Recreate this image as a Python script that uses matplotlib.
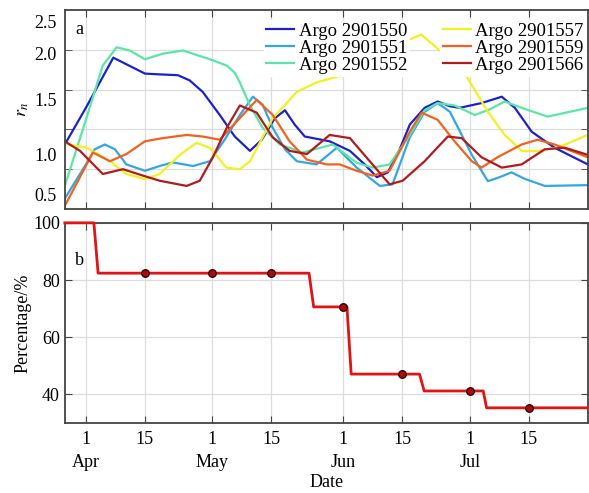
"""Argo float r_n time series (a) and surviving-float percentage (b)."""
import matplotlib
matplotlib.use("Agg")
import matplotlib.pyplot as plt

plt.rcParams["font.family"] = ["Liberation Serif", "DejaVu Serif"]
plt.rcParams["mathtext.fontset"] = "stix"
plt.rcParams["font.size"] = 13

# days counted from 1 April
names = ["Argo 2901550", "Argo 2901551", "Argo 2901552",
         "Argo 2901557", "Argo 2901559", "Argo 2901566"]
colors = ["#1c22c8", "#34a6e4", "#5ae6a6", "#f4f020", "#f2621e", "#b01c1c"]

d_1550 = [-5, 0, 6.5, 14, 17.5, 21.8, 24.6, 27.7, 31.75, 35.3, 38.9, 41.7, 44.8, 47.2, 49.5, 51.9,
          57.8, 62.6, 66.1, 69, 71.6, 74.4, 76.8, 80.3, 83.4, 86.3, 88.6, 93.8, 98.6, 101.7,
          105.7, 111.1, 119]
r_1550 = [0.81, 1.27, 1.90, 1.70, 1.69, 1.68, 1.615, 1.47, 1.18, 0.91, 0.73, 0.87, 1.14, 1.24, 1.06, 0.91,
          0.85, 0.73, 0.56, 0.40, 0.46, 0.75, 1.06, 1.27, 1.35, 1.29, 1.27, 1.33, 1.41, 1.27,
          0.97, 0.77, 0.56]

d_1551 = [-5, 0, 2.1, 4.5, 6.9, 9.6, 14, 17.5, 20.6, 25.4, 29.4, 32.9, 36.5, 39.6, 41.9, 44.3,
          47.2, 50, 54.7, 59.5, 64.2, 69.7, 72.7, 76.8, 80.3, 83.4, 86.3, 89.1, 91.5, 95.3,
          98.1, 100.9, 104, 108.8, 119]
r_1551 = [0.13, 0.56, 0.75, 0.81, 0.75, 0.56, 0.48, 0.54, 0.585, 0.54, 0.60, 0.87, 1.18, 1.41, 1.31, 1.02,
          0.75, 0.60, 0.56, 0.77, 0.52, 0.29, 0.31, 0.90, 1.22, 1.33, 1.22, 0.93, 0.68, 0.35,
          0.40, 0.46, 0.38, 0.29, 0.30]

d_1552 = [-5, 0, 4, 7.3, 10.4, 14, 18.2, 23, 29.4, 33.4, 35.3, 36.5, 38.9, 41.9, 46, 51.4,
          58.5, 64.2, 68, 72, 76.8, 80.3, 83.4, 87.4, 92.2, 95.7, 99.3, 103.3, 109.5, 119]
r_1552 = [0.29, 1.12, 1.80, 2.03, 1.99, 1.88, 1.95, 1.99, 1.88, 1.80, 1.71, 1.59, 1.30, 1.02, 0.81, 0.71,
          0.81, 0.58, 0.52, 0.56, 0.93, 1.24, 1.33, 1.30, 1.18, 1.25, 1.35, 1.27, 1.16, 1.27]

d_1557 = [-5, 0.2, 5.7, 9.6, 14, 17.5, 22.3, 26.2, 29.4, 33.3, 36.5, 38.9, 44.3, 50, 54.7, 59.5,
          67.3, 73.2, 79.5, 83.9, 87.4, 90.3, 95.3, 99.3, 103.3, 107.1, 111.8, 119]
r_1557 = [0.82, 0.77, 0.60, 0.44, 0.376, 0.44, 0.68, 0.83, 0.77, 0.52, 0.50, 0.60, 1.14, 1.47, 1.59, 1.66,
          1.74, 2.05, 2.19, 1.99, 1.84, 1.66, 1.22, 0.93, 0.73, 0.73, 0.77, 0.93]

d_1559 = [-5, -1.4, 1.66, 5.7, 9.6, 14, 18.2, 23.9, 27.7, 31.75, 36.5, 40.5, 44.3, 48.3, 52.4, 57.1,
          60.2, 64.2, 68, 72, 76.8, 79.6, 83.4, 87.4, 91.5, 93.8, 97.6, 103.3, 107.1, 111.1, 119]
r_1559 = [0.04, 0.40, 0.71, 0.60, 0.69, 0.85, 0.89, 0.93, 0.91, 0.87, 1.14, 1.37, 1.18, 0.85, 0.62, 0.56,
          0.56, 0.48, 0.42, 0.48, 0.97, 1.21, 1.12, 0.85, 0.60, 0.52, 0.65, 0.81, 0.87, 0.81, 0.65]

d_1566 = [-5, -1.4, 4, 8.8, 13.5, 17.5, 23.9, 27, 30.1, 33.4, 36.5, 40.5, 44.3, 48.3, 52.4, 57.8,
          62.6, 67.3, 72, 75.1, 80.3, 85.8, 89.1, 93.8, 98.6, 103.3, 108.8, 113.5, 119]
r_1566 = [0.85, 0.73, 0.44, 0.50, 0.42, 0.355, 0.29, 0.355, 0.65, 1.02, 1.30, 1.21, 0.90, 0.73, 0.69, 0.93,
          0.89, 0.60, 0.31, 0.355, 0.60, 0.91, 0.89, 0.65, 0.52, 0.56, 0.75, 0.77, 0.68]

days_all = [d_1550, d_1551, d_1552, d_1557, d_1559, d_1566]
rn_all = [r_1550, r_1551, r_1552, r_1557, r_1559, r_1566]

# percentage of floats still reporting
step_days = [-5, 1.9, 2.9, 52.9, 54, 61.9, 62.9, 79.1, 80.2, 94.2, 95, 119]
step_pct = [100, 100, 82.4, 82.4, 70.6, 70.6, 47.1, 47.1, 41.2, 41.2, 35.3, 35.3]
mark_days = [14, 30, 44, 61, 75, 91, 105]
mark_pct = [82.4, 82.4, 82.4, 70.6, 47.1, 41.2, 35.3]

xtick_days = [0, 14, 30, 44, 61, 75, 91, 105]
xtick_labels = ["1\nApr", "15", "1\nMay", "15", "1\nJun", "15", "1\nJul", "15"]
rn_grid = [0.5, 1.0, 1.5, 2.0]
rn_label_pos = [0.18, 0.69, 1.37, 1.95, 2.36]
rn_labels = ["0.5", "1.0", "1.5", "2.0", "2.5"]
pct_ticks = [40, 60, 80, 100]

fig = plt.figure(figsize=(5.89, 4.93), dpi=100)
ax1 = fig.add_axes([0.110, 0.576, 0.888, 0.404])
ax2 = fig.add_axes([0.110, 0.142, 0.888, 0.406])

handles = []
for d, r, c, n in zip(days_all, rn_all, colors, names):
    h, = ax1.plot(d, r, color=c, lw=1.6, label=n)
    handles.append(h)

ax1.set_xlim(-5, 119)
ax1.set_ylim(0, 2.5)
ax1.set_xticks(xtick_days)
ax1.set_xticklabels([])
ax1.set_yticks(rn_grid, minor=True)
ax1.set_yticks(rn_label_pos)
ax1.set_yticklabels(rn_labels)
ax1.tick_params(axis="y", which="major", length=0, pad=6)
ax1.tick_params(axis="y", which="minor", direction="in", length=5, left=True, right=True, color="#444444")
ax1.tick_params(axis="x", direction="in", length=5, top=True, bottom=True, color="#444444")
ax1.grid(True, axis="x", color="#dddddd", lw=0.9)
ax1.grid(True, axis="y", which="minor", color="#dddddd", lw=0.9)
ax1.set_ylabel("$r_n$", labelpad=2)
ax1.text(0.02, 0.90, "a", transform=ax1.transAxes, fontsize=13, va="center")

leg_kw = dict(frameon=True, framealpha=1, edgecolor="none", facecolor="white",
              handlelength=1.5, handletextpad=0.25, labelspacing=0.0, borderpad=0.15,
              borderaxespad=0, fontsize=13.5, loc="upper left")
leg1 = ax1.legend(handles=handles[:3], bbox_to_anchor=(0.38, 0.95), **leg_kw)
ax1.add_artist(leg1)
ax1.legend(handles=handles[3:], bbox_to_anchor=(0.717, 0.95), **leg_kw)

ax2.plot(step_days, step_pct, color="#e01414", lw=2.0, zorder=5, clip_on=False)
ax2.plot(mark_days, mark_pct, "o", ms=5.5, mfc="#a80c0c", mec="#2a0000", mew=0.9, zorder=6)
ax2.set_xlim(-5, 119)
ax2.set_ylim(30, 100)
ax2.set_xticks(xtick_days)
ax2.set_xticklabels(xtick_labels, linespacing=1.45)
ax2.set_yticks(pct_ticks)
ax2.tick_params(direction="in", length=5, top=True, right=True, color="#444444")
ax2.tick_params(axis="x", pad=6)
ax2.grid(True, color="#dddddd", lw=0.9)
ax2.set_ylabel("Percentage/%", labelpad=1)
ax2.set_xlabel("Date", labelpad=2)
ax2.text(0.02, 0.81, "b", transform=ax2.transAxes, fontsize=13, va="center")

for ax in (ax1, ax2):
    for s in ax.spines.values():
        s.set_color("#444444")
        s.set_linewidth(1.3)

fig.savefig("out.png", dpi=100)
